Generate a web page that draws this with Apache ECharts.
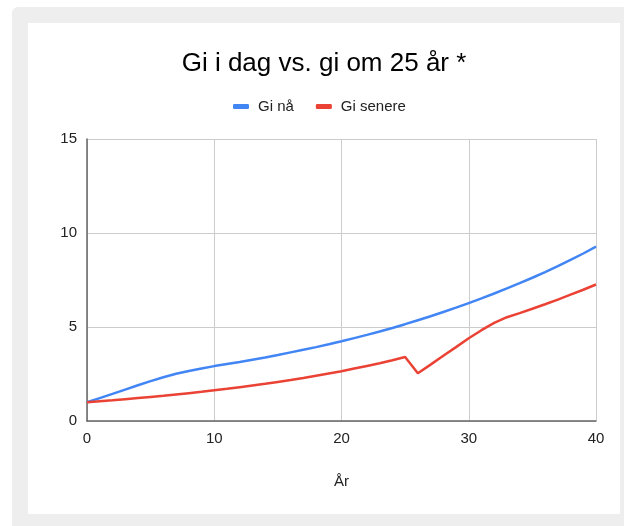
<!DOCTYPE html>
<html>
<head>
<meta charset="utf-8">
<script src="https://cdn.jsdelivr.net/npm/echarts@6/dist/echarts.min.js"></script>
<style>
html,body{margin:0;padding:0;background:#fff;}
#c{width:624px;height:526px;}
</style>
</head>
<body>
<div id="c"></div>
<script>
const years = [0,1,2,3,4,5,6,7,8,9,10,11,12,13,14,15,16,17,18,19,20,21,22,23,24,25,26,27,28,29,30,31,32,33,34,35,36,37,38,39,40];
const giNa = [1.00,1.22,1.44,1.67,1.90,2.12,2.33,2.51,2.66,2.79,2.92,3.03,3.14,3.26,3.38,3.51,3.65,3.79,3.93,4.08,4.24,4.41,4.58,4.76,4.95,5.15,5.36,5.57,5.80,6.03,6.27,6.52,6.78,7.05,7.33,7.62,7.92,8.24,8.57,8.91,9.27];
const giSenere = [1.00,1.05,1.10,1.16,1.22,1.28,1.34,1.41,1.48,1.55,1.63,1.71,1.80,1.89,1.98,2.08,2.18,2.29,2.41,2.53,2.65,2.79,2.93,3.07,3.23,3.40,2.54,3.00,3.47,3.93,4.40,4.83,5.22,5.52,5.74,5.97,6.21,6.46,6.72,6.98,7.26];
const seriesNames = ['Gi nå','Gi senere'];
const titleText = 'Gi i dag vs. gi om 25 år *';
const xName = 'År';

const font = '"Liberation Sans", Arial, sans-serif';
const chart = echarts.init(document.getElementById('c'), null, {renderer:'canvas'});
chart.setOption({
  animation:false,
  backgroundColor:'#ffffff',
  graphic:[
    {type:'rect', z:-10, silent:true, shape:{x:12,y:7,width:700,height:600,r:6}, style:{fill:'#eeeeee'}},
    {type:'rect', z:-9, silent:true, shape:{x:28,y:23,width:592,height:491}, style:{fill:'#ffffff'}}
  ],
  title:{text:titleText, left:319, textAlign:'center', top:46, textStyle:{fontFamily:font, fontSize:26, fontWeight:'normal', color:'#000'}},
  legend:{
    data:seriesNames, top:94, left:228, icon:'roundRect', itemWidth:16, itemHeight:5, itemGap:22,
    textStyle:{fontFamily:font, fontSize:15, color:'#222', padding:[0,0,0,4]}
  },
  grid:{left:87, right:28, top:139, bottom:105},
  xAxis:{
    type:'value', min:0, max:40, interval:10,
    name:xName, nameLocation:'middle', nameGap:53,
    nameTextStyle:{fontFamily:font, fontSize:15, color:'#222'},
    axisLine:{show:true, lineStyle:{color:'#666', width:1.5}},
    axisTick:{show:false},
    axisLabel:{fontFamily:font, fontSize:15, color:'#222', margin:10},
    splitLine:{show:true, lineStyle:{color:'#cccccc', width:1}}
  },
  yAxis:{
    type:'value', min:0, max:15, interval:5,
    axisLine:{show:true, lineStyle:{color:'#666', width:1.5}},
    axisTick:{show:false},
    axisLabel:{fontFamily:font, fontSize:15, color:'#222', margin:10},
    splitLine:{show:true, lineStyle:{color:'#cccccc', width:1}}
  },
  series:[
    {name:seriesNames[0], type:'line', data:years.map((x,i)=>[x,giNa[i]]), showSymbol:false, symbol:'none', lineStyle:{color:'#4285F4', width:2.5}, itemStyle:{color:'#4285F4'}},
    {name:seriesNames[1], type:'line', data:years.map((x,i)=>[x,giSenere[i]]), showSymbol:false, symbol:'none', lineStyle:{color:'#EA4335', width:2.5}, itemStyle:{color:'#EA4335'}}
  ]
});
</script>
</body>
</html>
